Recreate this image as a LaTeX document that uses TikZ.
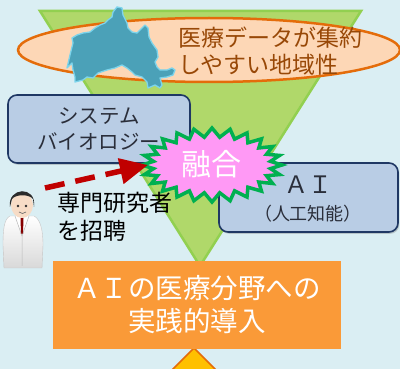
\documentclass[tikz,border=0pt]{standalone}
\usepackage{fontspec}
\setmainfont{Noto Sans CJK JP}
\usetikzlibrary{arrows.meta,shadows}

\definecolor{bgblue}{HTML}{DAEEF3}
\definecolor{trifill}{HTML}{B0D86A}
\definecolor{triline}{HTML}{92D050}
\definecolor{ellfill}{HTML}{FDD7B6}
\definecolor{ellline}{HTML}{E46C0A}
\definecolor{elltext}{HTML}{984807}
\definecolor{mapfill}{HTML}{4BA1B8}
\definecolor{mapline}{HTML}{7CD4EC}
\definecolor{boxfill}{HTML}{B9CDE5}
\definecolor{boxline}{HTML}{1F3864}
\definecolor{boxtext}{HTML}{2A2E3A}
\definecolor{burstfill}{HTML}{FF99F5}
\definecolor{burstline}{HTML}{00B050}
\definecolor{arrowred}{HTML}{C00000}
\definecolor{orangebox}{HTML}{FA9A38}
\definecolor{diafill}{HTML}{FFC000}
\definecolor{skin}{HTML}{F7DCC6}
\definecolor{hair}{HTML}{2B2B2B}

\tikzset{
  infobox/.style={draw=boxline, line width=1.6pt, fill=boxfill, rounded corners=9pt,
    text=boxtext, align=center,
    drop shadow={shadow xshift=1.2pt, shadow yshift=-1.8pt, opacity=0.3, fill=black!60}},
  burstshape/.style={draw=burstline, line width=3.5pt, fill=burstfill, line join=miter},
  redarrow/.style={draw=arrowred, line width=5.5pt, dash pattern=on 20pt off 11pt,
    -{Triangle[length=28pt,width=25pt]}},
  txt/.style={inner sep=0pt, align=left},
}

\begin{document}
\begin{tikzpicture}[x=1pt,y=-1pt]
  \useasboundingbox (0,0) rectangle (400,369);
  \clip (0,0) rectangle (400,369);
  \fill[bgblue] (0,0) rectangle (400,369);

  % funnel triangle
  \draw[fill=trifill, draw=triline, line width=2.5pt, line join=miter]
    (40,11) -- (361,11) -- (200,266) -- cycle;

  % regional data ellipse
  \draw[fill=ellfill, draw=ellline, line width=2.5pt] (209,50) ellipse [x radius=191, y radius=32];

  % prefecture outline
  \draw[fill=mapfill, draw=mapline, line width=1.3pt, line join=round]
    (117,7) -- (122,8) -- (123,15) -- (127,23) -- (128,28) -- (132,32) -- (137,33)
    -- (142,28) -- (145,25) -- (148,28) -- (149,37) -- (152,43) -- (157,50) -- (158,57)
    -- (155,62) -- (157,67) -- (160,70) -- (167,70) -- (172,68) -- (175,70) -- (173,75)
    -- (167,77) -- (160,78) -- (162,85) -- (160,88) -- (155,85) -- (148,88) -- (147,82)
    -- (142,77) -- (135,75) -- (132,72) -- (127,68) -- (122,65) -- (115,68) -- (107,70)
    -- (98,73) -- (93,78) -- (87,77) -- (83,80) -- (75,82) -- (75,77) -- (73,70)
    -- (72,63) -- (67,68) -- (70,55) -- (73,43) -- (72,38) -- (77,35) -- (83,33)
    -- (90,32) -- (95,28) -- (100,25) -- (105,23) -- (108,20) -- (112,17) -- (113,12)
    -- cycle;

  \node[txt, anchor=west, text=elltext, font=\fontsize{23}{26.5}\selectfont]
    (region) at (178,51) {医療データが集約\\しやすい地域性};

  % systems biology box
  \node[infobox, minimum width=182pt, minimum height=68pt,
    font=\fontsize{20.5}{25.5}\selectfont] (sysbio) at (99,129) {システム\\バイオロジー};

  % AI box with its two text lines
  \node[infobox, minimum width=179pt, minimum height=69pt] (ai) at (308.5,197.5) {};
  \node[txt, text=boxtext, font=\fontsize{24}{28}\selectfont] (aititle) at (308,185) {ＡＩ};
  \node[txt, text=boxtext, font=\fontsize{18}{22}\selectfont] (aisub) at (308,214) {（人工知能）};

  % fusion burst
  \draw[burstshape] (282,165)
    \foreach \i in {1,...,47}{
      -- ({212+(70-11*mod(\i,2))*cos(7.5*\i)},{165+(37-9*mod(\i,2))*sin(7.5*\i)})
    } -- cycle;
  \node[txt, text=white, font=\fontsize{30}{34}\selectfont] (fuse) at (212,164) {融合};

  % invited researcher
  \coordinate (from) at (45,188);
  \coordinate (tip) at (148,165);
  \draw[redarrow] (from) -- (tip);
  \node[txt, anchor=north west, text=black, font=\fontsize{23}{28}\selectfont]
    (invite) at (57,192) {専門研究者\\を招聘};

  % researcher figure
  \shade[top color=white, bottom color=gray!30, draw=gray!45, line width=0.4pt]
    (10,216) .. controls (4,219) and (3,230) .. (3,245) -- (4,268) -- (42,268)
    -- (43,245) .. controls (43,229) and (40,219) .. (34,216) -- cycle;
  \fill[white] (15,216) -- (29,216) -- (22,234) -- cycle;
  \fill[arrowred!70!black] (20.5,218) -- (23.5,218) -- (23,234) -- (21,234) -- cycle;
  \draw[gray!55, line width=0.5pt] (15,216) -- (22,236) -- (22,266);
  \draw[gray!55, line width=0.5pt] (29,216) -- (22,236);
  \fill[skin] (22,205) ellipse [x radius=11, y radius=13];
  \fill[hair] (10,207) .. controls (7,187) and (37,185) .. (34,207)
    -- (33,199) .. controls (29,194) and (16,194) .. (12,199) -- cycle;
  \fill[hair] (18,206) circle (1.3) (26,206) circle (1.3);
  \draw[black!60, line width=0.6pt] (19,212) .. controls (21,214) and (24,214) .. (26,212);

  % next stage marker
  \draw[fill=diafill, draw=ellline, line width=1.5pt] (194,348) -- (225,379) -- (194,410) -- (163,379) -- cycle;

  % practical deployment box
  \node[fill=orangebox, minimum width=288pt, minimum height=88pt, inner sep=0pt,
    text=white, align=center, font=\fontsize{27.5}{33}\selectfont] (deploy) at (197,305)
    {ＡＩの医療分野への\\実践的導入};
\end{tikzpicture}
\end{document}
